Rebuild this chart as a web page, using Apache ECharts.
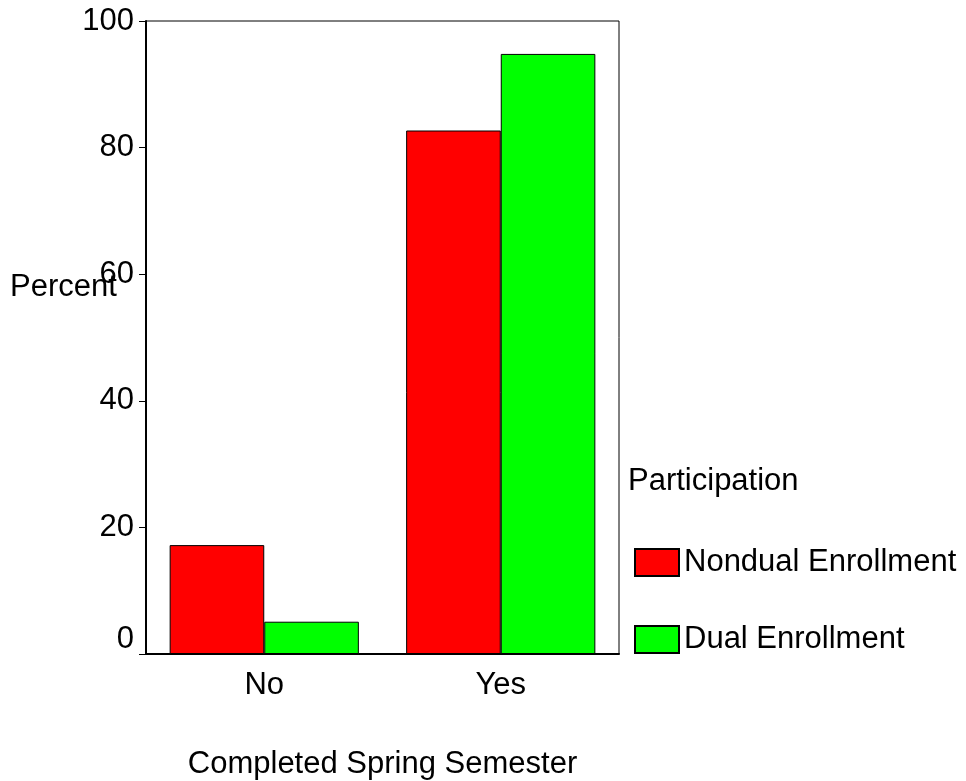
<!DOCTYPE html>
<html lang="en">
<head>
    <meta charset="UTF-8">
    <script type="text/javascript" src="https://cdn.jsdelivr.net/npm/echarts@6.0.0/dist/echarts.min.js"></script>
    <style>
        html, body {
            margin: 0;
            overflow: hidden;
            background: #fff;
        }
        #viewport {
            position: absolute;
            left: 0px;
            top: 0px;
            width: 966px;
            height: 781px;
        }
    </style>
</head>
<body>
<div id="viewport"></div>
<script>
    var categories = ['No', 'Yes'];
    var nondual = [17.2, 82.7];
    var dual = [5.1, 94.8];
    var seriesNames = ['Nondual Enrollment', 'Dual Enrollment'];

    var FONT = 'Liberation Sans, Arial, sans-serif';
    var FS = 31;
    var myChart = echarts.init(document.getElementById('viewport'));

    var option = {
        animation: false,
        textStyle: { fontFamily: FONT },
        title: [
            {
                text: 'Percent', left: 10, top: 272, padding: 0,
                textStyle: { fontFamily: FONT, fontSize: FS, fontWeight: 'normal', color: '#000' }
            },
            {
                text: 'Participation', left: 628, top: 466, padding: 0,
                textStyle: { fontFamily: FONT, fontSize: FS, fontWeight: 'normal', color: '#000' }
            }
        ],
        legend: {
            orient: 'vertical',
            left: 634,
            top: 547,
            padding: 0,
            itemWidth: 44,
            itemHeight: 27,
            itemGap: 46,
            icon: 'rect',
            textStyle: { fontFamily: FONT, fontSize: FS, color: '#000' },
            data: seriesNames
        },
        grid: {
            left: 146, top: 21, width: 473, height: 633,
            show: true, borderColor: '#000', borderWidth: 1,
            containLabel: false,
            outerBoundsMode: 'none'
        },
        xAxis: {
            type: 'category',
            data: categories,
            name: 'Completed Spring Semester',
            nameLocation: 'middle',
            nameGap: 95,
            nameTextStyle: { fontFamily: FONT, fontSize: FS, color: '#000' },
            axisLine: { lineStyle: { color: '#000', width: 2 } },
            axisTick: { alignWithLabel: true, length: 7, lineStyle: { color: '#000', width: 1 } },
            axisLabel: { fontFamily: FONT, fontSize: FS, color: '#000', margin: 16 },
            splitLine: { show: false }
        },
        yAxis: {
            type: 'value',
            min: 0, max: 100, interval: 20,
            axisLine: { show: true, lineStyle: { color: '#000', width: 2 } },
            axisTick: { show: true, length: 7, lineStyle: { color: '#000', width: 1 } },
            splitLine: { show: false },
            axisLabel: {
                fontFamily: FONT, fontSize: FS, color: '#000', margin: 12,
                formatter: function (v) { return v === 0 ? '{z|0}' : String(v); },
                rich: { z: { fontFamily: FONT, fontSize: FS, color: '#000', padding: [0, 0, 30, 0] } }
            }
        },
        series: [
            {
                name: seriesNames[0], type: 'bar', data: nondual,
                barGap: '0%', barCategoryGap: '20%',
                itemStyle: { color: '#ff0000', borderColor: '#000', borderWidth: 1 }
            },
            {
                name: seriesNames[1], type: 'bar', data: dual,
                barGap: '0%', barCategoryGap: '20%',
                itemStyle: { color: '#00ff00', borderColor: '#000', borderWidth: 1 }
            }
        ]
    };
    myChart.setOption(option);
</script>
</body>
</html>
